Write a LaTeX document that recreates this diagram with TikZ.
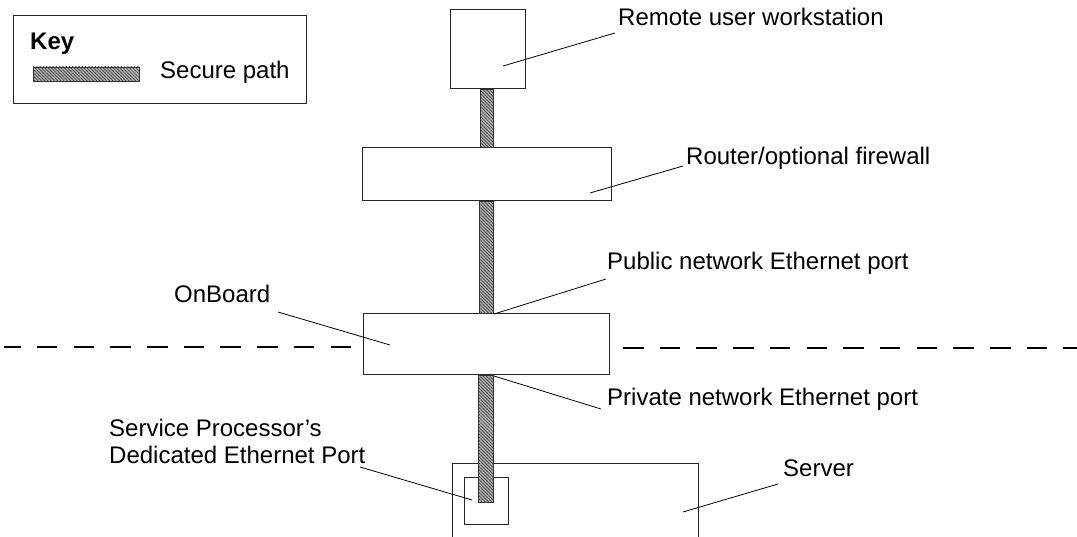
\documentclass[tikz,border=0pt]{standalone}
\usepackage{fontspec}
\setmainfont{Liberation Sans}
\usetikzlibrary{patterns.meta,calc}

\begin{document}
\begin{tikzpicture}[x=1pt,y=-1pt,
  box/.style={draw=black!85,line width=1pt,fill=white,inner sep=0pt},
  lbl/.style={anchor=base west,inner sep=0pt,font=\fontsize{24}{28}\selectfont},
  leader/.style={draw=black,line width=0.8pt},
  secure/.style={draw=black!80,line width=0.8pt,inner sep=0pt,
    preaction={fill=gray!55},
    pattern={Lines[angle=-45,distance=2.3pt,line width=0.7pt]},pattern color=black!80},
  dashline/.style={draw=black,line width=2.8pt,dash pattern=on 20.5pt off 16.2pt}
  ]
\useasboundingbox (0,0) rectangle (1077,537);
\clip (0,0) rectangle (1077,537);

% key
\node[box,minimum width=293,minimum height=88] (keybox) at (159.5,60) {};
\node[lbl,font=\fontsize{24}{28}\selectfont\bfseries] (keytitle) at (30,50) {Key};
\node[secure,minimum width=106,minimum height=14] (keybar) at (86,74) {};
\node[lbl] (keytext) at (160,79) {Secure path};

% dashed boundary
\coordinate (dl1) at (351,347);
\coordinate (dl2) at (4,347);
\coordinate (dr1) at (623,348);
\coordinate (dr2) at (1077,348);
\draw[dashline] (dl1) -- (dl2);
\draw[dashline] (dr1) -- (dr2);

% boxes
\node[box,minimum width=75,minimum height=79] (ws) at (487.5,49.5) {};
\node[box,minimum width=249,minimum height=53] (router) at (486.5,174.5) {};
\node[box,minimum width=246,minimum height=61] (onboard) at (486,344.5) {};
\node[box,minimum width=246,minimum height=97] (server) at (575,511.5) {};
\node[box,minimum width=44,minimum height=47] (port) at (486,500.5) {};

% secure path
\coordinate (portend) at (485.5,502);
\path[secure] ($(ws.south)+(-7,0)$) rectangle ($(router.north)+(7,0)$);
\path[secure] ($(router.south)+(-7,0)$) rectangle ($(onboard.north)+(7,0)$);
\path[secure] ($(onboard.south)+(-7.5,0)$) rectangle ($(portend)+(7.5,0)$);

% labels
\node[lbl] (lremote) at (618,26) {Remote user workstation};
\node[lbl] (lrouter) at (686,165) {Router/optional firewall};
\node[lbl] (lpublic) at (607,270) {Public network Ethernet port};
\node[lbl] (lonboard) at (174,303) {OnBoard};
\node[lbl] (lprivate) at (607,406) {Private network Ethernet port};
\node[lbl] (lsp1) at (109,436) {Service Processor’s};
\node[lbl] (lsp2) at (109,464) {Dedicated Ethernet Port};
\node[lbl] (lserver) at (783,476) {Server};

% leader lines
\coordinate (a1) at (503,66);   \coordinate (b1) at (615,33);
\coordinate (a2) at (590,193);  \coordinate (b2) at (683,166);
\coordinate (a3) at (494,314);  \coordinate (b3) at (606,279);
\coordinate (a4) at (494,376);  \coordinate (b4) at (601,409);
\coordinate (a5) at (390,345);  \coordinate (b5) at (278,312);
\coordinate (a6) at (472,500);  \coordinate (b6) at (360,467);
\coordinate (a7) at (683,512);  \coordinate (b7) at (778,484);
\draw[leader] (a1) -- (b1);
\draw[leader] (a2) -- (b2);
\draw[leader] (a3) -- (b3);
\draw[leader] (a4) -- (b4);
\draw[leader] (a5) -- (b5);
\draw[leader] (a6) -- (b6);
\draw[leader] (a7) -- (b7);
\end{tikzpicture}
\end{document}
